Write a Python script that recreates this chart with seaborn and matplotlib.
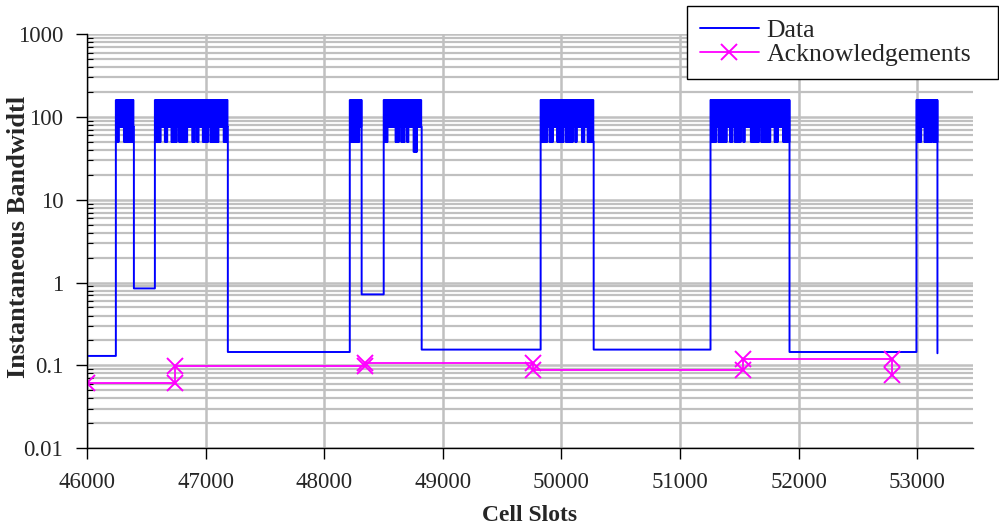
import numpy as np
import pandas as pd
import matplotlib
matplotlib.use("Agg")
import matplotlib.pyplot as plt
import seaborn as sns
from matplotlib.ticker import FixedLocator, LogLocator, FuncFormatter

# Data series: quiet levels between bursts, burst windows and the dips inside them
start_level = 0.13
burst_spans = [(46244, 46396), (46573, 47188), (48216, 48316), (48502, 48822),
               (49825, 50272), (51257, 51923), (52993, 53170)]
levels_after = [0.85, 0.145, 0.72, 0.155, 0.155, 0.145, 0.14]
burst_high = 160
burst_low = 76
dips = [
    [(46244, 46270, 50), (46312, 46388, 50)],
    [(46573, 46623, 50), (46657, 46674, 50), (46708, 46758, 50), (46775, 46843, 50),
     (46885, 46910, 50), (46927, 46944, 50), (46977, 47019, 50), (47036, 47112, 50),
     (47146, 47180, 50)],
    [(48216, 48292, 50)],
    [(48510, 48536, 50), (48595, 48629, 50), (48645, 48679, 50), (48696, 48713, 50),
     (48747, 48780, 38)],
    [(49825, 49884, 50), (49901, 49926, 50), (49960, 50019, 50), (50036, 50095, 50),
     (50111, 50128, 50), (50170, 50196, 50), (50221, 50272, 50)],
    [(51266, 51308, 50), (51325, 51392, 50), (51417, 51443, 50), (51460, 51510, 50),
     (51527, 51544, 50), (51594, 51662, 50), (51678, 51763, 50), (51797, 51822, 50),
     (51864, 51923, 50)],
    [(52993, 53035, 50), (53060, 53077, 50), (53085, 53119, 50), (53128, 53170, 50)],
]
cell_gap = 4  # cell slots between alternating high/low cells inside a burst

ack_x = [46000, 46740, 46740, 48345, 48345, 49760, 49760, 51530, 51530, 52785, 52785]
ack_y = [0.062, 0.062, 0.098, 0.098, 0.108, 0.108, 0.088, 0.088, 0.12, 0.12, 0.076]

x_ticks = [46000, 47000, 48000, 49000, 50000, 51000, 52000, 53000]
y_ticks = [0.01, 0.1, 1, 10, 100, 1000]
y_tick_labels = ["0.01", "0.1", "1", "10", "100", "1000"]

# build the blue step series
data_x = [46000]
data_y = [start_level]
for (s, e), after, dlist in zip(burst_spans, levels_after, dips):
    cells = np.arange(s, e, cell_gap)
    for i, c in enumerate(cells):
        if i % 2 == 0:
            v = burst_high
        else:
            v = burst_low
            for d0, d1, dv in dlist:
                if d0 <= c <= d1:
                    v = dv
        data_x.append(c)
        data_y.append(v)
    data_x.append(e)
    data_y.append(after)
df_data = pd.DataFrame({"x": data_x, "y": data_y})
df_ack = pd.DataFrame({"x": ack_x, "y": ack_y})

sns.set_style("white")
plt.rcParams["font.family"] = ["Liberation Serif", "DejaVu Serif"]

fig = plt.figure(figsize=(9.99, 5.26), dpi=100)
ax = fig.add_axes([0.087, 0.148, 0.887, 0.787])

sns.lineplot(data=df_data, x="x", y="y", ax=ax, sort=False, estimator=None,
             color="#0000ff", linewidth=1.4, drawstyle="steps-post", label="Data")
sns.lineplot(data=df_ack, x="x", y="y", ax=ax, sort=False, estimator=None,
             color="#ff00ff", linewidth=1.3, marker="x", markersize=11,
             markeredgewidth=1.4, markeredgecolor="#ff00ff", label="Acknowledgements")

ax.set_yscale("log")
ax.set_ylim(0.01, 1000)
ax.set_xlim(46000, 53470)
ax.xaxis.set_major_locator(FixedLocator(x_ticks))
ax.set_xticklabels([str(t) for t in x_ticks])
ax.yaxis.set_major_locator(FixedLocator(y_ticks))
ax.yaxis.set_minor_locator(LogLocator(base=10, subs=np.arange(2, 10), numticks=20))
ax.yaxis.set_major_formatter(FuncFormatter(lambda v, p: y_tick_labels[y_ticks.index(v)] if v in y_ticks else ""))
ax.yaxis.set_minor_formatter(FuncFormatter(lambda v, p: ""))

ax.grid(which="major", axis="both", color="#c0c0c0", linewidth=1.8)
ax.grid(which="minor", axis="y", color="#c0c0c0", linewidth=1.6)
ax.set_axisbelow(True)

for side in ["top", "right"]:
    ax.spines[side].set_visible(False)
for side in ["left", "bottom"]:
    ax.spines[side].set_color("black")
    ax.spines[side].set_linewidth(1.0)

ax.tick_params(axis="both", which="major", direction="out", length=8, width=1,
               color="black", labelsize=16.5, pad=9, left=True, bottom=True)
ax.tick_params(axis="y", which="minor", direction="in", length=4, width=0.8,
               color="black", left=True)

ax.set_xlabel("Cell Slots", fontsize=17, fontweight="bold", labelpad=9)
ax.set_ylabel("Instantaneous Bandwidtl", fontsize=19, fontweight="bold")
ax.yaxis.set_label_coords(-0.064, 0.51)

ax.legend_.remove()
handles, labels = ax.get_legend_handles_labels()
leg = fig.legend(handles, labels, loc="upper left",
                 bbox_to_anchor=(687 / 999, 1 - 79 / 526, 311 / 999, 73 / 526),
                 mode="expand", borderaxespad=0,
                 fontsize=18.5, frameon=True, fancybox=False, edgecolor="black",
                 framealpha=1, handlelength=2.3, handletextpad=0.3,
                 borderpad=0.5, labelspacing=0.05)
leg.get_frame().set_linewidth(1.0)

fig.savefig("out.png", dpi=100)
